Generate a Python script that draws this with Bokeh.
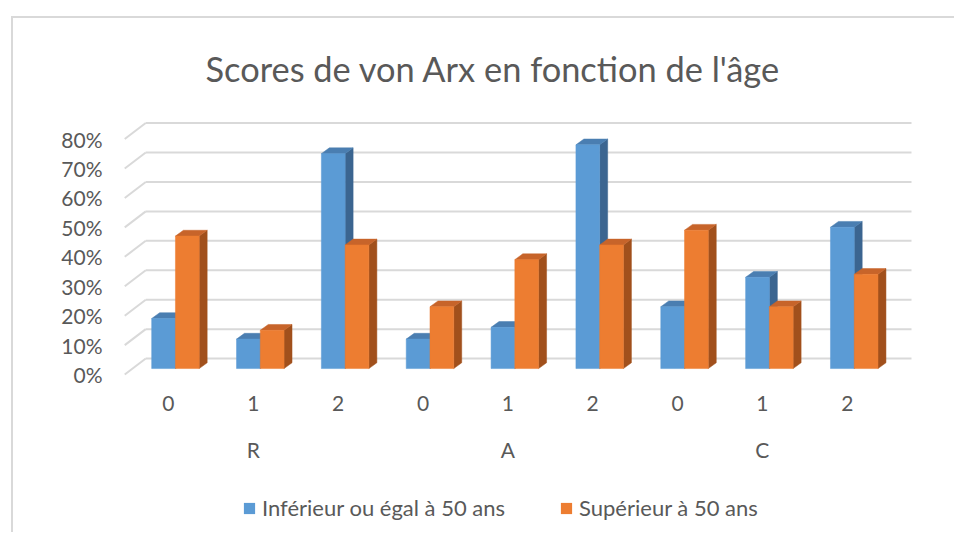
from bokeh.plotting import figure
from bokeh.layouts import column
from bokeh.models import (LinearAxis, FixedTicker, NumeralTickFormatter, Range1d,
                          Legend, LegendItem, Title)
from bokeh.embed import file_html
from bokeh.resources import INLINE

# ---------------- data ----------------
groups = ["R", "A", "C"]
scores = ["0", "1", "2"]
series_names = ["Inférieur ou égal à 50 ans", "Supérieur à 50 ans"]
inf_50 = [0.17, 0.10, 0.73, 0.10, 0.14, 0.76, 0.21, 0.31, 0.48]
sup_50 = [0.45, 0.13, 0.42, 0.21, 0.37, 0.42, 0.47, 0.21, 0.32]
y_ticks = [0.0, 0.1, 0.2, 0.3, 0.4, 0.5, 0.6, 0.7, 0.8]
title_text = "Scores de von Arx en fonction de l'âge"

# ---------------- style / geometry ----------------
FONT = "Lato"
TXT = "#595959"
GRID = "#D9D9D9"
BLUE = ("#5B9BD5", "#4A7EB1", "#3B6590")   # front, top, side
ORANGE = ("#ED7D31", "#C7642A", "#A1501C")

BW = 0.28
SHIFT_X = 0.0825
SHIFT_Y = 0.0204
CAP_X = 0.094
CAP_Y = 0.0197
WALL_X = 0.2475
WALL_Y = 0.0543

n = len(inf_50)
cats = [(g, s) for g in groups for s in scores]

p = figure(width=941, height=452, output_backend="svg", toolbar_location=None,
           x_range=Range1d(-0.065, 9.34), y_range=Range1d(-0.01, 0.88),
           x_axis_type=None, y_axis_type=None,
           min_border_left=107, min_border_right=36,
           min_border_top=97, min_border_bottom=93)
p.outline_line_color = None
p.xgrid.visible = False
p.ygrid.visible = False

gx0 = -0.015
diag_xs, diag_ys, hor_xs, hor_ys = [], [], [], []
for v in y_ticks:
    diag_xs.append([gx0, gx0 + WALL_X]); diag_ys.append([v, v + WALL_Y])
    hor_xs.append([gx0 + WALL_X, n + WALL_X + 0.01]); hor_ys.append([v + WALL_Y, v + WALL_Y])
p.multi_line(diag_xs, diag_ys, line_color=GRID, line_width=2)
p.multi_line(hor_xs, hor_ys, line_color=GRID, line_width=2)

for k, (vals, cols) in enumerate([(inf_50, BLUE), (sup_50, ORANGE)]):
    xc = [i + 0.5 + SHIFT_X + (k - 0.5) * BW for i in range(n)]
    bottoms = [SHIFT_Y] * n
    tops = [v + SHIFT_Y for v in vals]
    side_xs, side_ys, top_xs, top_ys = [], [], [], []
    for x, b, t in zip(xc, bottoms, tops):
        xl, xr = x - BW / 2, x + BW / 2
        side_xs.append([xr, xr + CAP_X, xr + CAP_X, xr])
        side_ys.append([b, b + CAP_Y, t + CAP_Y, t])
        top_xs.append([xl, xr, xr + CAP_X, xl + CAP_X])
        top_ys.append([t, t, t + CAP_Y, t + CAP_Y])
    p.patches(side_xs, side_ys, fill_color=cols[2], line_color=cols[2], line_width=0.5)
    p.patches(top_xs, top_ys, fill_color=cols[1], line_color=cols[1], line_width=0.5)
    p.vbar(x=xc, width=BW, bottom=bottoms, top=tops,
           fill_color=cols[0], line_color=cols[0], line_width=0.5)

yaxis = LinearAxis(ticker=FixedTicker(ticks=y_ticks),
                   formatter=NumeralTickFormatter(format="0%"),
                   axis_line_color=None, major_tick_line_color=None,
                   minor_tick_line_color=None, major_label_standoff=12,
                   major_label_text_font=FONT, major_label_text_font_size="21px",
                   major_label_text_color=TXT)
p.add_layout(yaxis, "left")

score_ticks = [i + 0.5 for i in range(n)]
xaxis1 = LinearAxis(ticker=FixedTicker(ticks=score_ticks),
                    major_label_overrides={t: c[1] for t, c in zip(score_ticks, cats)},
                    axis_line_color=None, major_tick_line_color=None,
                    minor_tick_line_color=None, major_label_standoff=12,
                    major_label_text_font=FONT, major_label_text_font_size="21px",
                    major_label_text_color=TXT)
p.add_layout(xaxis1, "below")

group_ticks = [len(scores) * j + len(scores) / 2 for j in range(len(groups))]
xaxis2 = LinearAxis(ticker=FixedTicker(ticks=group_ticks),
                    major_label_overrides={t: g for t, g in zip(group_ticks, groups)},
                    axis_line_color=None, major_tick_line_color=None,
                    minor_tick_line_color=None, major_label_standoff=17,
                    major_label_text_font=FONT, major_label_text_font_size="21px",
                    major_label_text_color=TXT)
p.add_layout(xaxis2, "below")

p.title = Title(text=title_text, align="left", offset=85, standoff=54,
                text_font=FONT, text_font_size="34.4px", text_font_style="normal",
                text_color=TXT)

# legend strip below the chart (swatch renderers have zero height: invisible)
p2 = figure(width=941, height=62, output_backend="svg", toolbar_location=None,
            x_range=Range1d(0, 1), y_range=Range1d(0, 1),
            x_axis_type=None, y_axis_type=None,
            min_border_left=0, min_border_right=0, min_border_top=0, min_border_bottom=0)
p2.outline_line_color = None
p2.xgrid.visible = False
p2.ygrid.visible = False
swatches = [p2.vbar(x=[0.5], bottom=[0], top=[0], width=0.01,
                    fill_color=c[0], line_color=None)
            for c in (BLUE, ORANGE)]
legend = Legend(items=[LegendItem(label=series_names[0], renderers=[swatches[0]]),
                       LegendItem(label=series_names[1], renderers=[swatches[1]])],
                orientation="horizontal", location=(122, 11),
                padding=0, margin=0, spacing=54,
                glyph_width=14, glyph_height=14, label_standoff=6,
                label_text_font=FONT, label_text_font_size="22px",
                label_text_color=TXT, border_line_color=None,
                background_fill_alpha=0)
p2.add_layout(legend)

layout = column(p, p2, spacing=0,
                styles={"margin-left": "11px", "margin-top": "16px",
                        "border-left": "2px solid #D9D9D9",
                        "border-top": "2px solid #D9D9D9"})

open("out.html", "w").write(file_html(layout, INLINE))
